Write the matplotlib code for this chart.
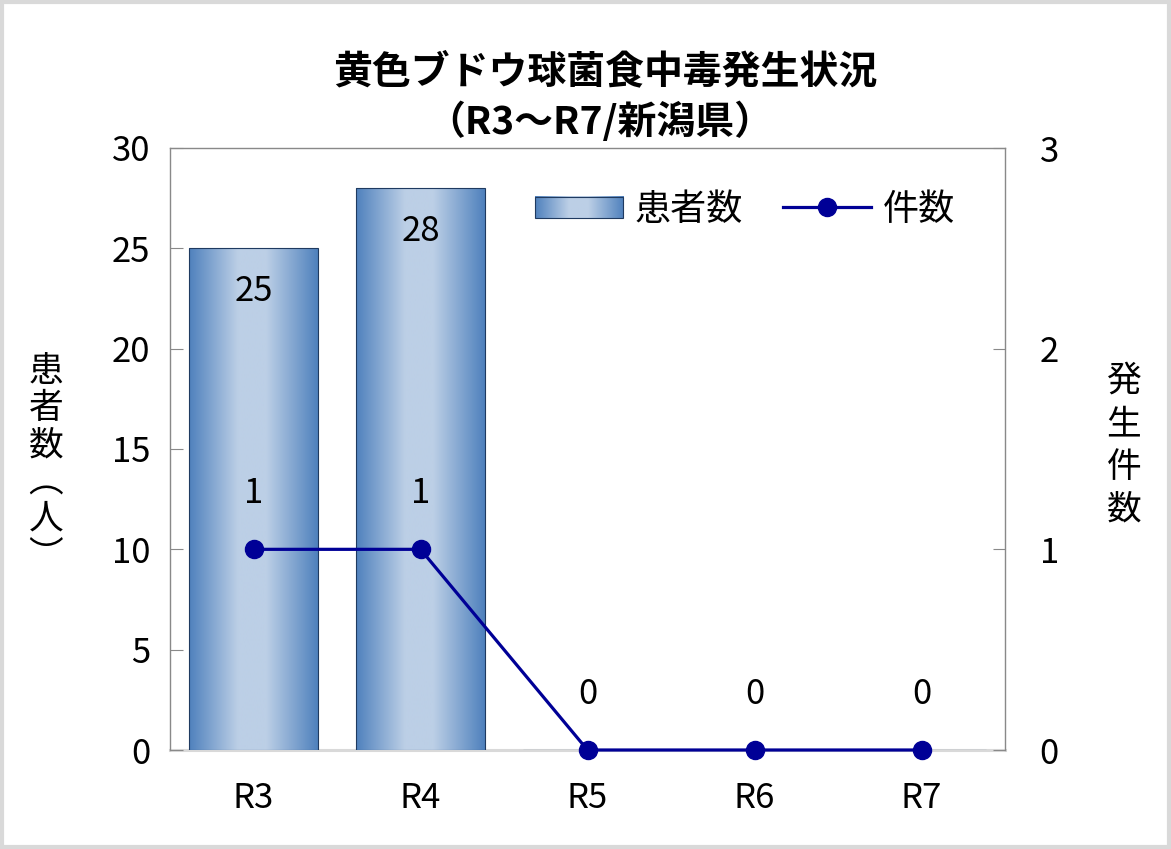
import numpy as np
import matplotlib
matplotlib.use("Agg")
import matplotlib.pyplot as plt
from matplotlib.colors import LinearSegmentedColormap
from matplotlib.legend_handler import HandlerBase
from matplotlib.image import BboxImage
from matplotlib.transforms import Bbox, TransformedBbox
from matplotlib.patches import Rectangle, Patch
from matplotlib.lines import Line2D

plt.rcParams['font.family'] = ['Noto Sans CJK JP', 'DejaVu Sans']

categories = ["R3", "R4", "R5", "R6", "R7"]
patients = [25, 28, 0, 0, 0]
cases = [1, 1, 0, 0, 0]
title_line1 = "黄色ブドウ球菌食中毒発生状況"
title_line2 = "（R3～R7/新潟県）"
left_label = "患者数︵人︶"
right_label = "発生件数"
legend_labels = ["患者数", "件数"]

dark = "#4F81BD"
light = "#BCCFE6"
cmap = LinearSegmentedColormap.from_list(
    "barg", [(0, dark), (0.38, light), (0.6, light), (1, dark)])
grad = np.linspace(0, 1, 256).reshape(1, -1)
line_color = "#000096"
tick_gray = "#898989"
FS = 25
DPI = 100
H = 849

fig = plt.figure(figsize=(11.71, 8.49), dpi=DPI)
ax = fig.add_axes([170/1171, 1-750/849, 835/1171, 602/849])
x = np.arange(len(categories))
bars = ax.bar(x, patients, width=0.77, color="none", edgecolor="#1F3A60",
              linewidth=0.8, zorder=3)
for b in bars:
    h = b.get_height()
    if h <= 0:
        continue
    x0 = b.get_x()
    w = b.get_width()
    im = ax.imshow(grad, cmap=cmap, aspect="auto", extent=[x0, x0 + w, 0, h],
                   zorder=2, interpolation="bilinear")
    im.set_clip_path(b)
    ax.annotate(f"{h:g}", (b.get_x() + w/2, h), xytext=(0, -31),
                textcoords="offset points", ha="center", va="center",
                fontsize=FS, zorder=5)

ax.set_xlim(-0.5, len(categories) - 0.5)
ax.set_ylim(0, 30)
ax.set_yticks(range(0, 31, 5))
ax.set_xticks(x)
ax.set_xticklabels(categories)
ax.tick_params(axis="y", direction="in", length=9, color=tick_gray,
               labelsize=FS, pad=14)
ax.tick_params(axis="x", length=0, labelsize=FS, pad=22)
for s in ["left", "top", "right"]:
    ax.spines[s].set_color(tick_gray)
    ax.spines[s].set_linewidth(1.0)
ax.spines["bottom"].set_color("#D9D9D9")
ax.spines["bottom"].set_linewidth(2.2)
ax.spines["bottom"].set_zorder(1)

ax2 = ax.twinx()
ax2.set_ylim(0, 3)
ax2.set_yticks([0, 1, 2, 3])
ax2.tick_params(axis="y", direction="in", length=9, color=tick_gray,
                labelsize=FS, pad=25)
for s in ax2.spines.values():
    s.set_visible(False)
ax2.plot(x, cases, color=line_color, linewidth=2.3, marker="o",
         markersize=13, zorder=6, clip_on=False)
for xi, v in zip(x, cases):
    ax2.annotate(f"{v}", (xi, v), xytext=(0, 40), textcoords="offset points",
                 ha="center", va="center", fontsize=FS)

fig.text(605/1171, 1 - 72/849, title_line1, ha="center", va="center",
         fontsize=28, fontweight="bold")
fig.text(600/1171, 1 - 122/849, title_line2, ha="center", va="center",
         fontsize=28, fontweight="bold")

renderer = fig.canvas.get_renderer()


def vertical_text(label, xc, yc, pitch):
    """One multi-line text, one character per line, with a given line pitch (px)."""
    t1 = fig.text(0, 0, label[0], fontsize=FS, ha="center", va="center")
    hs = t1.get_window_extent(renderer).height
    t1.remove()
    t = fig.text(xc / 1171, 1 - yc / H, "\n".join(label), fontsize=FS,
                 ha="center", va="center", multialignment="center")
    n = len(label)
    t.set_linespacing(1.0)
    p1 = (t.get_window_extent(renderer).height - hs) / (n - 1)
    t.set_linespacing(2.0)
    p2 = (t.get_window_extent(renderer).height - hs) / (n - 1)
    ls = 1.0 + (pitch - p1) / (p2 - p1)
    t.set_linespacing(ls)
    return t


vertical_text(left_label, 46, 464, 37)
vertical_text(right_label, 1124, 446, 43)


class GradHandler(HandlerBase):
    def create_artists(self, legend, orig_handle, xdescent, ydescent,
                       width, height, fontsize, trans):
        y0 = -ydescent + 0.08 * height
        hh = 0.84 * height
        bb = Bbox.from_bounds(-xdescent, y0, width, hh)
        tb = TransformedBbox(bb, trans)
        img = BboxImage(tb, cmap=cmap, interpolation="bilinear")
        img.set_data(grad)
        rect = Rectangle((-xdescent, y0), width, hh,
                         facecolor="none", edgecolor="#1F3A60", linewidth=0.8,
                         transform=trans)
        return [img, rect]


bar_handle = Patch(facecolor=light)
line_handle = Line2D([], [], color=line_color, linewidth=2.3, marker="o",
                     markersize=13)
leg = ax2.legend([bar_handle, line_handle], legend_labels, ncol=2,
                 loc="center left", bbox_to_anchor=(0.437, 0.897),
                 frameon=False, fontsize=26, handlelength=2.44,
                 handletextpad=0.33, columnspacing=1.1, borderpad=0,
                 borderaxespad=0, handler_map={Patch: GradHandler()})

border = Rectangle((0.0015, 0.002), 0.997, 0.996, transform=fig.transFigure,
                   facecolor="none", edgecolor="#D9D9D9", linewidth=3)
fig.patches.append(border)

fig.savefig("out.png", dpi=DPI)
